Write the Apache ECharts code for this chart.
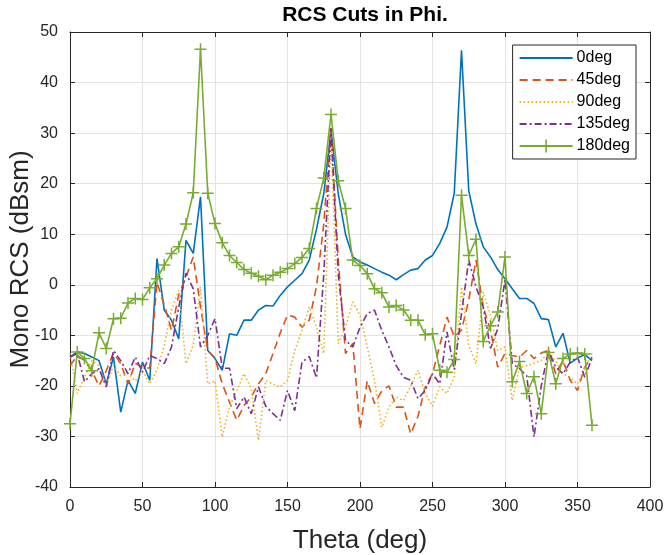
<!DOCTYPE html>
<html>
<head>
<meta charset="utf-8">
<script src="https://cdn.jsdelivr.net/npm/echarts@6/dist/echarts.min.js"></script>
<style>
html,body{margin:0;padding:0;background:#fff;}
#chart{width:665px;height:555px;}
</style>
</head>
<body>
<div id="chart"></div>
<script>
const thetaDeg = [0,5,10,15,20,25,30,35,40,45,50,55,60,65,70,75,80,85,90,95,100,105,110,115,120,125,130,135,140,145,150,155,160,165,170,175,180,185,190,195,200,205,210,215,220,225,230,235,240,245,250,255,260,265,270,275,280,285,290,295,300,305,310,315,320,325,330,335,340,345,350,355,360];

const rcs0deg = [-14.3,-13.3,-13.6,-14.3,-15,-19.6,-14.3,-25.2,-18.9,-21.5,-15.3,-18.9,5.2,-5,-7,-10.7,8.8,6.2,17.4,-13,-14.6,-16.9,-9.7,-10,-7,-7,-5,-4.1,-4.2,-2.1,-0.4,0.9,2.2,4.9,11,18,30.5,18,10,5.5,4.5,3.9,3.2,2.5,1.9,1.0,2.0,2.9,3.2,4.9,5.8,8.2,11.4,18.1,46.4,18.6,12.0,7.5,5.5,3.0,1.2,-0.8,-2.7,-2.7,-3.7,-6.7,-6.9,-12.3,-9.6,-15.5,-14.5,-13.8,-15];

const rcs45deg = [-16,-14,-15,-17,-20,-17,-13.5,-15.6,-19.6,-15.5,-16.3,-16.5,0.5,-4,-9,-2,1.5,5.5,-4.4,-13,-14.5,-19.6,-23.2,-26.8,-23.9,-22.2,-19.6,-17.6,-13.6,-9.5,-6,-6.4,-8.4,-7,-0.4,12,31,5,-13.6,-11.6,-28.5,-19,-23.5,-21,-20,-24.2,-24.2,-29.5,-26,-20.2,-17.6,-12,-6.4,-10.3,-9,-3,4.9,-4.4,-9,-16.3,-13.6,-14,-14.3,-13,-14.6,-13.5,-13,-17.6,-15,-18.9,-20.9,-16.3,-14.3];

const rcs90deg = [-13.5,-21.5,-18.3,-15,-16,-20,-16,-18,-17.5,-19,-17,-19.6,-16.9,-12,-5,-1.1,-15.6,-12,-0.4,-19.6,-19,-30.1,-24.2,-20.9,-17.6,-20.5,-30.8,-19,-19.6,-20.2,-18.9,-13,-9,-4.4,-8.4,-13.6,29.5,-11.6,-8.4,-3.4,-6,-12.3,-18.9,-28.2,-24.2,-22.2,-22.9,-20,-16.9,-21.5,-24,-20.2,-21.5,-18.3,-0.4,-12,-15.6,-1.5,-6,-13,-12.3,-22.9,-16.3,-16,-15.5,-15,-13.3,-15,-17.6,-18.5,-19.6,-16.5,-13.5];

const rcs135deg = [-14.3,-13.6,-19.2,-17.6,-16.6,-20.2,-13,-15,-17.6,-14.3,-17.3,-14,-14.6,-15.6,-12.3,-4.4,2.3,-0.8,-12.3,-10,-6.7,-16.5,-16.5,-24.5,-22.2,-25.5,-20.2,-24,-25.5,-26.8,-20.9,-24.9,-15.3,-14.2,-18.4,2,31,2,-11,-12.3,-8.4,-5.7,-5,-9,-12.3,-16,-18.3,-18.9,-22.5,-20.9,-17.6,-19.6,-9.3,-16.8,-5.7,4.9,-0.4,-4.4,-12.6,-8.7,1,-15.6,-16.6,-18,-30.1,-20,-13,-16.3,-17.6,-15.3,-14.3,-18.3,-14.5];

const rcs180deg = [-27.5,-13.3,-14.6,-17,-9.5,-12.6,-6.7,-6.6,-3.6,-2.7,-2.9,-0.6,1.2,3.9,6.2,7.5,12.0,18.2,46.6,18.1,12.1,8.3,5.8,4.4,3.0,2.3,1.7,1.0,1.9,2.5,3.2,4.2,5.4,7.2,15.1,21.1,33.7,20.6,15.1,4.9,3.8,2.2,-0.8,-1.6,-4.4,-4.1,-5.0,-7.0,-7.0,-9.9,-9.7,-16.9,-17.3,-14.8,17.7,5.8,9.0,-11.2,-8.1,-5.4,5.5,-19.2,-15.2,-21.5,-18.2,-25.5,-13.4,-19.6,-14.6,-13.7,-13.5,-13.7,-27.8];

const seriesNames = ['0deg','45deg','90deg','135deg','180deg'];
const xTicks = {min: 0, max: 400, interval: 50};
const yTicks = {min: -40, max: 50, interval: 10};

const FONT = '"Liberation Sans", Arial, Helvetica, sans-serif';
const AX = '#262626';

function pairs(vals){ return thetaDeg.map((t,i)=>[t, vals[i]]); }

const plusPath = 'path://M10.5,0h3v10.5h10.5v3h-10.5v10.5h-3v-10.5h-10.5v-3h10.5z';

const chart = echarts.init(document.getElementById('chart'), null, {renderer:'canvas'});
const baseX = {type:'value', min:xTicks.min, max:xTicks.max, interval:xTicks.interval};
const baseY = {type:'value', min:yTicks.min, max:yTicks.max, interval:yTicks.interval};

chart.setOption({
  animation: false,
  backgroundColor: '#fff',
  textStyle: {fontFamily: FONT},
  title: {
    text: 'RCS Cuts in Phi.',
    left: 360, top: 0, textAlign: 'center',
    textStyle: {fontFamily: FONT, fontWeight: 'bold', fontSize: 21, color: '#000'}
  },
  grid: {left: 70, right: 15, top: 32, bottom: 68, containLabel: false, outerBoundsMode: 'none'},
  legend: {
    orient: 'vertical',
    right: 29, top: 45,
    padding: [5, 6, 5, 6],
    itemWidth: 53, itemHeight: 16, itemGap: 6,
    backgroundColor: '#fff',
    borderColor: AX, borderWidth: 1,
    textStyle: {fontFamily: FONT, fontSize: 16, color: '#000', padding: [0,0,0,-1]},
    data: [
      {name: seriesNames[0], itemStyle: {opacity: 0}},
      {name: seriesNames[1], itemStyle: {opacity: 0}},
      {name: seriesNames[2], itemStyle: {opacity: 0}},
      {name: seriesNames[3], itemStyle: {opacity: 0}},
      {name: seriesNames[4]}
    ]
  },
  xAxis: [
    Object.assign({}, baseX, {
      position: 'bottom',
      name: 'Theta (deg)', nameLocation: 'middle', nameGap: 41,
      nameTextStyle: {fontFamily: FONT, fontSize: 26, color: AX},
      axisLine: {show: true, onZero: false, lineStyle: {color: AX, width: 1}},
      axisTick: {show: true, inside: true, length: 5, lineStyle: {color: AX}},
      axisLabel: {show: true, fontFamily: FONT, fontSize: 16, color: AX, margin: 12},
      splitLine: {show: true, lineStyle: {color: '#e3e3e3', width: 1}}
    }),
    Object.assign({}, baseX, {
      position: 'top',
      axisLine: {show: true, onZero: false, lineStyle: {color: AX, width: 1}},
      axisTick: {show: true, inside: true, length: 5, lineStyle: {color: AX}},
      axisLabel: {show: false},
      splitLine: {show: false}
    })
  ],
  yAxis: [
    Object.assign({}, baseY, {
      position: 'left',
      name: 'Mono RCS (dBsm)', nameLocation: 'middle', nameGap: 36,
      nameMoveOverlap: false,
      nameTextStyle: {fontFamily: FONT, fontSize: 26, color: AX},
      axisLine: {show: true, onZero: false, lineStyle: {color: AX, width: 1}},
      axisTick: {show: true, inside: true, length: 5, lineStyle: {color: AX}},
      axisLabel: {show: true, fontFamily: FONT, fontSize: 16, color: AX, margin: 12},
      splitLine: {show: true, lineStyle: {color: '#e3e3e3', width: 1}}
    }),
    Object.assign({}, baseY, {
      position: 'right',
      axisLine: {show: true, onZero: false, lineStyle: {color: AX, width: 1}},
      axisTick: {show: true, inside: true, length: 5, lineStyle: {color: AX}},
      axisLabel: {show: false},
      splitLine: {show: false}
    })
  ],
  series: [
    {name: seriesNames[0], type: 'line', data: pairs(rcs0deg), symbol: 'none',
     lineStyle: {color: '#0072BD', width: 1.6, type: 'solid'}, itemStyle: {color: '#0072BD'}},
    {name: seriesNames[1], type: 'line', data: pairs(rcs45deg), symbol: 'none',
     lineStyle: {color: '#D95319', width: 1.6, type: [8, 5]}, itemStyle: {color: '#D95319'}},
    {name: seriesNames[2], type: 'line', data: pairs(rcs90deg), symbol: 'none',
     lineStyle: {color: '#EDB120', width: 1.6, type: [1.5, 2.5]}, itemStyle: {color: '#EDB120'}},
    {name: seriesNames[3], type: 'line', data: pairs(rcs135deg), symbol: 'none',
     lineStyle: {color: '#7E2F8E', width: 1.6, type: [7, 3, 2, 3]}, itemStyle: {color: '#7E2F8E'}},
    {name: seriesNames[4], type: 'line', data: pairs(rcs180deg), symbol: plusPath, symbolSize: 12,
     showSymbol: true,
     lineStyle: {color: '#77AC30', width: 1.6, type: 'solid'}, itemStyle: {color: '#77AC30'}}
  ]
});
</script>
</body>
</html>
